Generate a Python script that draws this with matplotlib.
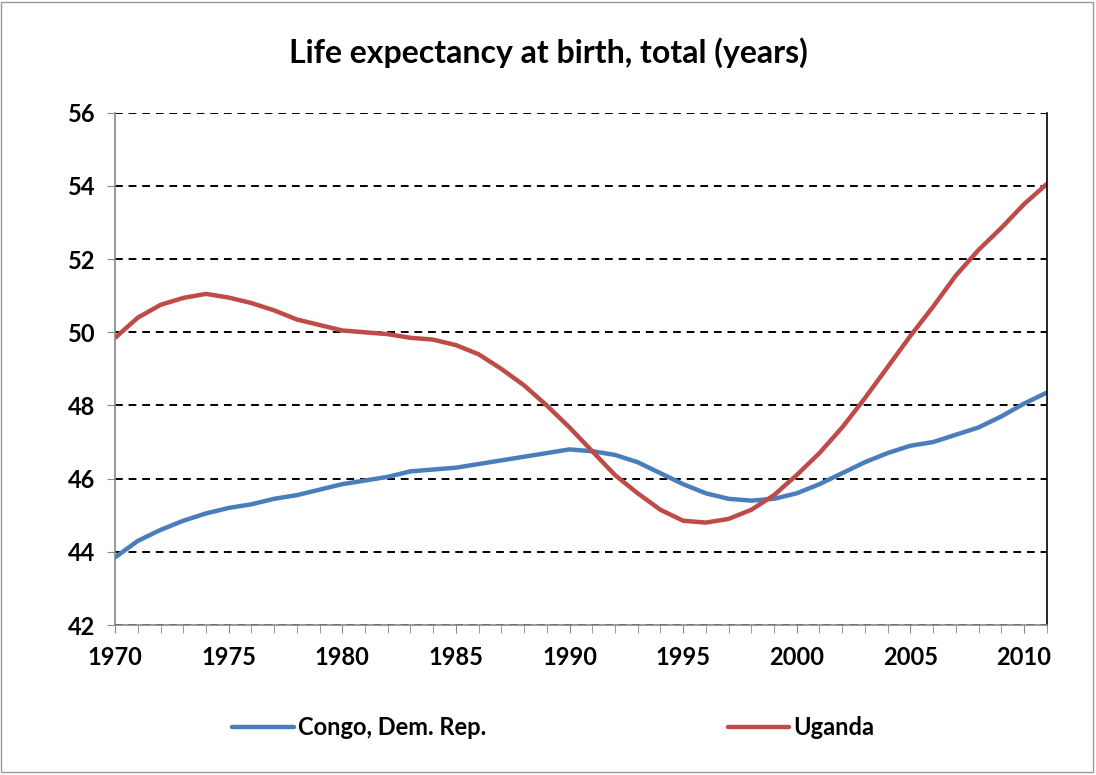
import matplotlib.pyplot as plt
from matplotlib.patches import Rectangle
from matplotlib.ticker import MultipleLocator

plt.rcParams["font.family"] = ["Lato", "DejaVu Sans"]

# =========================================================
# DATA
# =========================================================

years = list(range(1970, 2012))

congo = [43.85, 44.30, 44.60, 44.85, 45.05, 45.20, 45.30, 45.45, 45.55, 45.70,
         45.85, 45.95, 46.05, 46.20, 46.25, 46.30, 46.40, 46.50, 46.60, 46.70,
         46.80, 46.75, 46.65, 46.45, 46.15, 45.85, 45.60, 45.45, 45.40, 45.45,
         45.60, 45.85, 46.15, 46.45, 46.70, 46.90, 47.00, 47.20, 47.40, 47.70,
         48.05, 48.35]

uganda = [49.85, 50.40, 50.75, 50.94, 51.05, 50.95, 50.80, 50.60, 50.35, 50.20,
          50.05, 50.00, 49.95, 49.85, 49.80, 49.65, 49.40, 49.00, 48.55, 48.00,
          47.40, 46.75, 46.10, 45.60, 45.15, 44.85, 44.80, 44.90, 45.15, 45.55,
          46.10, 46.70, 47.40, 48.20, 49.05, 49.90, 50.70, 51.55, 52.25, 52.85,
          53.50, 54.05]

series_names = ["Congo, Dem. Rep.", "Uganda"]
series_colors = ["#4A7EBB", "#BE4B48"]

# =========================================================
# PLOT
# =========================================================

fig = plt.figure(figsize=(10.96, 7.75), dpi=100)
ax = fig.add_axes([0.105, 0.1935, 0.850, 0.661])

for vals, name, col in zip([congo, uganda], series_names, series_colors):
    ax.plot(years, vals, color=col, lw=3.2, label=name, solid_capstyle="round")

ax.set_xlim(1970, 2011)
ax.set_ylim(42, 56)
ax.yaxis.set_major_locator(MultipleLocator(2))
ax.xaxis.set_major_locator(MultipleLocator(5))
ax.xaxis.set_minor_locator(MultipleLocator(1))

ax.grid(axis="y", color="black", linestyle=(0, (4, 3)), lw=1.4)
ax.set_axisbelow(True)

for s in ["left", "bottom"]:
    ax.spines[s].set_color("#888888")
    ax.spines[s].set_linewidth(1.2)
ax.spines["right"].set_color("black")
ax.spines["right"].set_linewidth(1.2)
ax.spines["top"].set_visible(False)

ax.tick_params(axis="y", which="major", direction="out", length=6, color="#888888",
               labelsize=17, pad=8)
ax.tick_params(axis="x", which="both", direction="out", length=6, color="#888888",
               labelsize=17, pad=9)
for lbl in ax.get_xticklabels() + ax.get_yticklabels():
    lbl.set_fontweight("bold")

fig.suptitle("Life expectancy at birth, total (years)", y=0.952, fontsize=23,
             fontweight="bold")

fig.legend(loc="center", bbox_to_anchor=(0.505, 0.061), ncol=2, frameon=False,
           prop={"size": 17, "weight": "bold"}, handlelength=2.6,
           handletextpad=0.2, columnspacing=10.2)

fig.add_artist(Rectangle((0.001, 0.004), 0.996, 0.994, transform=fig.transFigure,
                         fill=False, edgecolor="#9a9a9a", lw=1.0))

plt.savefig("out.png", dpi=100)
plt.close()
